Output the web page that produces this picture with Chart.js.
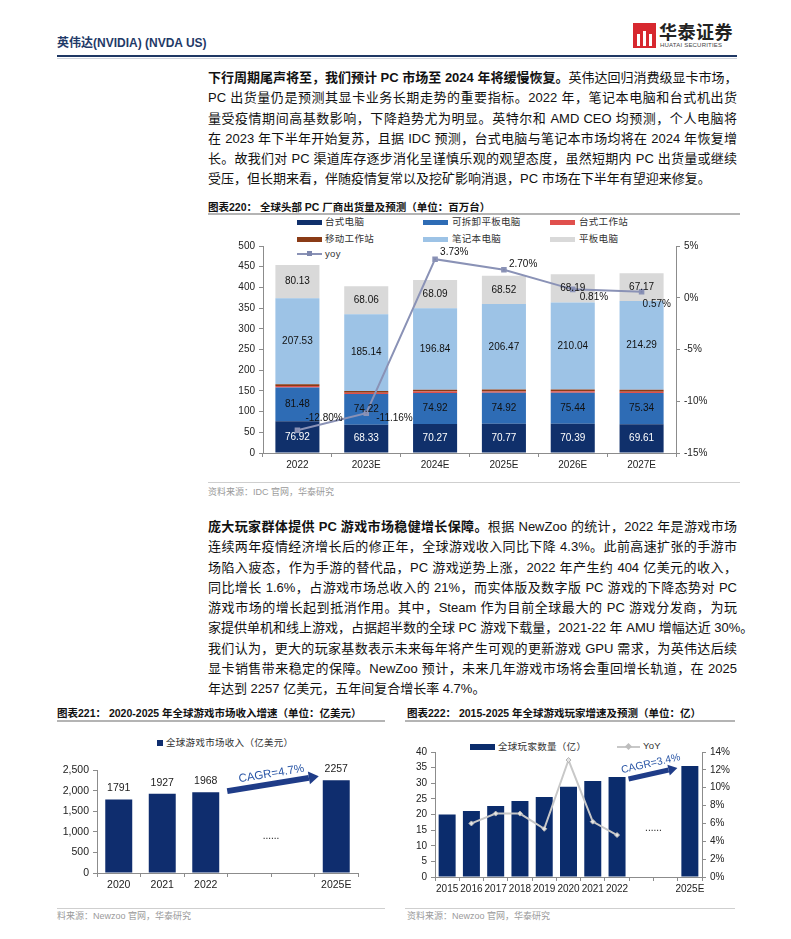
<!DOCTYPE html>
<html>
<head>
<meta charset="utf-8">
<title>英伟达 PC 与游戏市场</title>
<script src="https://cdn.jsdelivr.net/npm/chart.js@4.4.1/dist/chart.umd.min.js"></script>
<style>
html,body{margin:0;padding:0;background:#fff;}
body{width:791px;height:939px;position:relative;overflow:hidden;font-family:"Liberation Sans","Noto Sans CJK SC",sans-serif;color:#111;}
.a{position:absolute;white-space:nowrap;}
.para{position:absolute;left:208px;width:529px;font-size:13px;}
.para div{height:20.3px;line-height:20.3px;white-space:nowrap;text-align:justify;text-align-last:justify;}
.para div.last{text-align-last:left;}
.title{position:absolute;font-size:10.5px;font-weight:bold;color:#111;white-space:nowrap;line-height:14px;}
.rule{position:absolute;height:1px;background:#a0a0a0;}
.src{position:absolute;font-size:9px;color:#9a9a9a;white-space:nowrap;line-height:12px;}
.lg{position:absolute;font-size:9.5px;color:#333;white-space:nowrap;line-height:12px;letter-spacing:0.3px;}
.sw{position:absolute;}
canvas{position:absolute;}
</style>
</head>
<body>

<!-- 页眉 -->
<div class="a" style="left:57px;top:36px;font-size:12px;font-weight:bold;color:#1F3A68;line-height:14px;">英伟达(NVIDIA) (NVDA US)</div>
<div class="a" style="left:633px;top:23px;width:23px;height:25px;background:#D7282F;"></div>
<div class="a" style="left:637px;top:34px;width:3px;height:12px;background:#fff;"></div>
<div class="a" style="left:643px;top:31px;width:3px;height:15px;background:#fff;"></div>
<div class="a" style="left:649px;top:34px;width:3px;height:12px;background:#fff;"></div>
<div class="a" style="left:659px;top:22px;font-size:18px;font-weight:bold;color:#222;line-height:22px;letter-spacing:0.5px;">华泰证券</div>
<div class="a" style="left:660px;top:42px;font-size:6px;color:#444;line-height:7px;letter-spacing:0.2px;">HUATAI SECURITIES</div>
<div class="a" style="left:57px;top:55px;width:680px;height:2px;background:#1F3864;"></div>
<div class="a" style="left:57px;top:58px;width:680px;height:1px;background:#d0d4dc;"></div>

<!-- 段落一 -->
<div class="para" style="top:68px;">
<div><b>下行周期尾声将至，我们预计 PC 市场至 2024 年将缓慢恢复。</b>英伟达回归消费级显卡市场，</div>
<div>PC 出货量仍是预测其显卡业务长期走势的重要指标。2022 年，笔记本电脑和台式机出货</div>
<div>量受疫情期间高基数影响，下降趋势尤为明显。英特尔和 AMD CEO 均预测，个人电脑将</div>
<div>在 2023 年下半年开始复苏，且据 IDC 预测，台式电脑与笔记本市场均将在 2024 年恢复增</div>
<div>长。故我们对 PC 渠道库存逐步消化呈谨慎乐观的观望态度，虽然短期内 PC 出货量或继续</div>
<div class="last">受压，但长期来看，伴随疫情复常以及挖矿影响消退，PC 市场在下半年有望迎来修复。</div>
</div>

<!-- 图表220 -->
<div class="title" style="left:208px;top:200px;">图表220：&nbsp;全球头部 PC 厂商出货量及预测（单位：百万台）</div>
<div class="rule" style="left:208px;top:213px;width:532px;height:2px;background:#b4b4b4;"></div>

<div class="sw" style="left:297px;top:220px;width:25px;height:5px;background:#10306B;"></div>
<div class="lg" style="left:325px;top:216px;">台式电脑</div>
<div class="sw" style="left:423px;top:220px;width:25px;height:5px;background:#2E6CB5;"></div>
<div class="lg" style="left:452px;top:216px;">可拆卸平板电脑</div>
<div class="sw" style="left:550px;top:220px;width:25px;height:5px;background:#E0504D;"></div>
<div class="lg" style="left:579px;top:216px;">台式工作站</div>
<div class="sw" style="left:297px;top:237px;width:25px;height:5px;background:#8A3B16;"></div>
<div class="lg" style="left:325px;top:233px;">移动工作站</div>
<div class="sw" style="left:423px;top:237px;width:25px;height:5px;background:#9DC3E6;"></div>
<div class="lg" style="left:452px;top:233px;">笔记本电脑</div>
<div class="sw" style="left:550px;top:237px;width:25px;height:5px;background:#D9D9D9;"></div>
<div class="lg" style="left:579px;top:233px;">平板电脑</div>
<div class="sw" style="left:297px;top:253px;width:25px;height:2px;background:#8A92B6;"></div>
<div class="sw" style="left:307px;top:251px;width:5px;height:5px;background:#7D86AD;"></div>
<div class="lg" style="left:325px;top:248px;">yoy</div>

<canvas id="c220" width="529" height="241" style="left:208px;top:236px;width:529px;height:241px;"></canvas>

<div class="rule" style="left:208px;top:482px;width:532px;background:#cfcfcf;"></div>
<div class="src" style="left:208px;top:486px;">资料来源：IDC 官网，华泰研究</div>

<!-- 段落二 -->
<div class="para" style="top:517px;">
<div><b>庞大玩家群体提供 PC 游戏市场稳健增长保障。</b>根据 NewZoo 的统计，2022 年是游戏市场</div>
<div>连续两年疫情经济增长后的修正年，全球游戏收入同比下降 4.3%。此前高速扩张的手游市</div>
<div>场陷入疲态，作为手游的替代品，PC 游戏逆势上涨，2022 年产生约 404 亿美元的收入，</div>
<div>同比增长 1.6%，占游戏市场总收入的 21%，而实体版及数字版 PC 游戏的下降态势对 PC</div>
<div>游戏市场的增长起到抵消作用。其中，Steam 作为目前全球最大的 PC 游戏分发商，为玩</div>
<div>家提供单机和线上游戏，占据超半数的全球 PC 游戏下载量，2021-22 年 AMU 增幅达近 30%。</div>
<div>我们认为，更大的玩家基数表示未来每年将产生可观的更新游戏 GPU 需求，为英伟达后续</div>
<div>显卡销售带来稳定的保障。NewZoo 预计，未来几年游戏市场将会重回增长轨道，在 2025</div>
<div class="last">年达到 2257 亿美元，五年间复合增长率 4.7%。</div>
</div>

<!-- 图表221 -->
<div class="title" style="left:57px;top:706px;">图表221：&nbsp;2020-2025 年全球游戏市场收入增速（单位：亿美元）</div>
<div class="rule" style="left:57px;top:720px;width:328px;height:2px;background:#b4b4b4;"></div>
<div class="sw" style="left:157px;top:740px;width:6px;height:6px;background:#0F2D6E;"></div>
<div class="lg" style="left:166px;top:737px;">全球游戏市场收入（亿美元）</div>
<canvas id="c221" width="328" height="135" style="left:57px;top:760px;width:328px;height:135px;"></canvas>
<div class="rule" style="left:57px;top:908px;width:328px;background:#cfcfcf;"></div>
<div class="src" style="left:57px;top:910px;">料来源：Newzoo 官网，华泰研究</div>

<!-- 图表222 -->
<div class="title" style="left:407px;top:706px;">图表222：&nbsp;2015-2025 年全球游戏玩家增速及预测（单位：亿）</div>
<div class="rule" style="left:405px;top:720px;width:330px;height:2px;background:#b4b4b4;"></div>
<div class="sw" style="left:470px;top:744px;width:25px;height:6px;background:#0B2C6C;"></div>
<div class="lg" style="left:498px;top:741px;">全球玩家数量（亿）</div>
<div class="sw" style="left:617px;top:746px;width:23px;height:2px;background:#c8c8c8;"></div>
<div class="sw" style="left:626px;top:744px;width:5px;height:5px;background:#bdbdbd;transform:rotate(45deg);"></div>
<div class="lg" style="left:643px;top:740px;">YoY</div>
<canvas id="c222" width="340" height="157" style="left:405px;top:742px;width:340px;height:157px;"></canvas>
<div class="rule" style="left:405px;top:908px;width:330px;background:#cfcfcf;"></div>
<div class="src" style="left:407px;top:910px;">资料来源：Newzoo 官网，华泰研究</div>

<script>
var FONT = "'Liberation Sans','Noto Sans CJK SC',sans-serif";

// 图表220 全球头部PC厂商出货量（百万台）
var years220 = ['2022', '2023E', '2024E', '2025E', '2026E', '2027E'];
var desktop220 = [76.92, 68.33, 70.27, 70.77, 70.39, 69.61];
var detachable220 = [81.48, 74.22, 74.92, 74.92, 75.44, 75.34];
var deskStation220 = [3.3, 3.0, 3.1, 3.1, 3.2, 3.2];
var mobileStation220 = [4.6, 4.2, 4.4, 4.5, 4.6, 4.6];
var notebook220 = [207.53, 185.14, 196.84, 206.47, 210.04, 214.29];
var tablet220 = [80.13, 68.06, 68.09, 68.52, 68.19, 67.17];
var yoy220 = [-12.80, -11.16, 3.73, 2.70, 0.81, 0.57];
// yoy 标签相对数据点的偏移
var yoyLabelPos220 = [[8, -12], [10, 5], [5, -7], [5, -6], [7, 8], [1, 12]];

// 图表221 全球游戏市场收入（亿美元）
var years221 = ['2020', '2021', '2022', '', '', '2025E'];
var revenue221 = [1791, 1927, 1968, null, null, 2257];

// 图表222 全球游戏玩家（亿）
var years222 = ['2015', '2016', '2017', '2018', '2019', '2020', '2021', '2022', '', '', '2025E'];
var players222 = [20.0, 21.1, 22.7, 24.3, 25.6, 28.9, 30.7, 32.0, null, null, 35.5];
var yoy222 = [null, 6.0, 7.1, 7.1, 5.4, 13.1, 6.2, 4.7, null, null, null];

//================ 数据标签 ================
var valueLabels = {
    id: 'valueLabels',
    afterDatasetsDraw: function(chart) {
        var ctx = chart.ctx;
        chart.data.datasets.forEach(function(ds, i) {
            if (!ds.lbl) return;
            var meta = chart.getDatasetMeta(i);
            ctx.save();
            ctx.font = ds.lbl.font;
            ctx.fillStyle = ds.lbl.color;
            ctx.textBaseline = 'middle';
            meta.data.forEach(function(el, j) {
                var v = ds.data[j];
                if (v === null || v === undefined) return;
                var txt = ds.lbl.fmt ? ds.lbl.fmt(v) : String(v);
                var x = el.x, y;
                ctx.textAlign = 'center';
                if (ds.lbl.pos === 'center') {
                    y = (el.y + el.base) / 2;
                } else if (ds.lbl.pos === 'top') {
                    y = el.y - ds.lbl.gap;
                } else {
                    var off = ds.lbl.offsets[j];
                    ctx.textAlign = 'left';
                    x = el.x + off[0];
                    y = el.y + off[1];
                }
                ctx.fillText(txt, x, y);
            });
            ctx.restore();
        });
    }
};

//================ CAGR 箭头 ================
var cagrArrow = {
    id: 'cagrArrow',
    afterDatasetsDraw: function(chart, args, opt) {
        if (!opt || !opt.text) return;
        var meta = chart.getDatasetMeta(0);
        var a = meta.data[opt.from], b = meta.data[opt.to];
        var x0 = a.x + a.width / 2 + opt.gap[0], y0 = a.y + opt.lift[0];
        var x1 = b.x - b.width / 2 - opt.gap[1], y1 = b.y + opt.lift[1];
        var ang = Math.atan2(y1 - y0, x1 - x0);
        var c = Math.cos(ang), s = Math.sin(ang);
        var bx = x1 - opt.headLen * c, by = y1 - opt.headLen * s;
        var h = opt.headW / 2;
        var ctx = chart.ctx;
        ctx.save();
        ctx.strokeStyle = opt.color;
        ctx.fillStyle = opt.color;
        ctx.lineWidth = opt.shaft;
        ctx.beginPath();
        ctx.moveTo(x0, y0);
        ctx.lineTo(bx, by);
        ctx.stroke();
        ctx.beginPath();
        ctx.moveTo(x1, y1);
        ctx.lineTo(bx - s * h, by + c * h);
        ctx.lineTo(bx + s * h, by - c * h);
        ctx.closePath();
        ctx.fill();
        var mx = (x0 + x1) / 2 + s * opt.textGap, my = (y0 + y1) / 2 - c * opt.textGap;
        ctx.translate(mx, my);
        ctx.rotate(ang);
        ctx.font = opt.font;
        ctx.fillStyle = opt.textColor;
        ctx.textAlign = 'center';
        ctx.textBaseline = 'middle';
        ctx.fillText(opt.text, 0, 0);
        ctx.restore();
    }
};

//================ 省略号 ================
var gapDots = {
    id: 'gapDots',
    afterDatasetsDraw: function(chart, args, opt) {
        if (!opt || !opt.text) return;
        var xs = chart.scales.x, ys = chart.scales.y;
        var x = (xs.getPixelForValue(opt.between[0]) + xs.getPixelForValue(opt.between[1])) / 2;
        var y = ys.getPixelForValue(opt.value);
        var ctx = chart.ctx;
        ctx.save();
        ctx.font = opt.font;
        ctx.fillStyle = '#222';
        ctx.textAlign = 'center';
        ctx.textBaseline = 'middle';
        ctx.fillText(opt.text, x, y);
        ctx.restore();
    }
};

Chart.register(valueLabels, cagrArrow, gapDots);

function axisGrid() {
    return { drawOnChartArea: false, drawTicks: true, tickLength: 4, color: '#8c8c8c' };
}
function tickFont(size) {
    return { family: FONT, size: size };
}

//================ 图表220 ================
var dark220 = { pos: 'center', font: '10px ' + FONT, color: '#111' };
new Chart(document.getElementById('c220'), {
    type: 'bar',
    data: {
        labels: years220,
        datasets: [
            { label: '台式电脑', data: desktop220, backgroundColor: '#10306B', order: 2,
              lbl: { pos: 'center', font: '10px ' + FONT, color: '#fff' } },
            { label: '可拆卸平板电脑', data: detachable220, backgroundColor: '#2E6CB5', order: 2, lbl: dark220 },
            { label: '台式工作站', data: deskStation220, backgroundColor: '#E0504D', order: 2 },
            { label: '移动工作站', data: mobileStation220, backgroundColor: '#8A3B16', order: 2 },
            { label: '笔记本电脑', data: notebook220, backgroundColor: '#9DC3E6', order: 2, lbl: dark220 },
            { label: '平板电脑', data: tablet220, backgroundColor: '#D9D9D9', order: 2, lbl: dark220 },
            { type: 'line', label: 'yoy', data: yoy220, yAxisID: 'y1', order: 0,
              borderColor: '#8A92B6', backgroundColor: '#7D86AD', borderWidth: 2,
              pointStyle: 'rect', pointRadius: 2.5,
              lbl: { pos: 'point', offsets: yoyLabelPos220, font: '10px ' + FONT, color: '#111',
                     fmt: function(v) { return v.toFixed(2) + '%'; } } }
        ]
    },
    options: {
        responsive: false,
        animation: false,
        layout: { padding: { top: 10, bottom: 0, left: 0, right: 0 } },
        plugins: { legend: { display: false }, tooltip: { enabled: false } },
        datasets: { bar: { barPercentage: 0.64, categoryPercentage: 1, borderWidth: 0 } },
        scales: {
            x: { stacked: true, grid: axisGrid(), border: { color: '#8c8c8c' },
                 ticks: { font: tickFont(10), color: '#222', padding: 2 },
                 afterFit: function(s) { s.height = 24; } },
            y: { stacked: true, min: 0, max: 500, grid: axisGrid(), border: { color: '#8c8c8c' },
                 ticks: { stepSize: 50, font: tickFont(10), color: '#222', padding: 4 },
                 afterFit: function(s) { s.width = 55; } },
            y1: { position: 'right', min: -15, max: 5, grid: axisGrid(), border: { color: '#8c8c8c' },
                  ticks: { stepSize: 5, font: tickFont(10), color: '#222', padding: 4,
                           callback: function(v) { return v + '%'; } },
                  afterFit: function(s) { s.width = 61; } }
        }
    }
});

//================ 图表221 ================
new Chart(document.getElementById('c221'), {
    type: 'bar',
    data: {
        labels: years221,
        datasets: [
            { label: '全球游戏市场收入（亿美元）', data: revenue221, backgroundColor: '#0F2D6E',
              barPercentage: 0.62, categoryPercentage: 1,
              lbl: { pos: 'top', gap: 11, font: '10.5px ' + FONT, color: '#222' } }
        ]
    },
    options: {
        responsive: false,
        animation: false,
        layout: { padding: { top: 10, bottom: 0, left: 0, right: 27 } },
        plugins: {
            legend: { display: false }, tooltip: { enabled: false },
            cagrArrow: { text: 'CAGR=4.7%', from: 2, to: 5, gap: [8, 4], lift: [-1, -4],
                         headLen: 10, headW: 13, shaft: 6, color: '#1F3C88', textColor: '#2A56A6',
                         textGap: 10, font: '11.5px ' + FONT },
            gapDots: { text: '......', between: [3, 4], value: 900, font: '10px ' + FONT }
        },
        scales: {
            x: { grid: axisGrid(), border: { color: '#8c8c8c' },
                 ticks: { font: tickFont(10.5), color: '#222', padding: 2 },
                 afterFit: function(s) { s.height = 22; } },
            y: { min: 0, max: 2500, grid: axisGrid(), border: { color: '#8c8c8c' },
                 ticks: { stepSize: 500, font: tickFont(10.5), color: '#222', padding: 4,
                          callback: function(v) { return v.toLocaleString('en-US'); } },
                 afterFit: function(s) { s.width = 40; } }
        }
    }
});

//================ 图表222 ================
new Chart(document.getElementById('c222'), {
    type: 'bar',
    data: {
        labels: years222,
        datasets: [
            { label: '全球玩家数量（亿）', data: players222, backgroundColor: '#0B2C6C',
              barPercentage: 0.7, categoryPercentage: 1, order: 2 },
            { type: 'line', label: 'YoY', data: yoy222, yAxisID: 'y1', order: 0,
              borderColor: '#C8C8C8', borderWidth: 2, spanGaps: false,
              pointStyle: 'rectRot', pointRadius: 2.5,
              pointBackgroundColor: '#E4E4E4', pointBorderColor: '#B5B5B5', pointBorderWidth: 1 }
        ]
    },
    options: {
        responsive: false,
        animation: false,
        layout: { padding: { top: 10, bottom: 0, left: 0, right: 0 } },
        plugins: {
            legend: { display: false }, tooltip: { enabled: false },
            cagrArrow: { text: 'CAGR=3.4%', from: 7, to: 10, gap: [3, 4], lift: [2, 2],
                         headLen: 9, headW: 11, shaft: 5, color: '#1F3C88', textColor: '#2A56A6',
                         textGap: 10, font: '10.5px ' + FONT },
            gapDots: { text: '......', between: [8, 9], value: 15.7, font: '10px ' + FONT }
        },
        scales: {
            x: { grid: axisGrid(), border: { color: '#8c8c8c' },
                 ticks: { font: tickFont(10), color: '#222', padding: 2, autoSkip: false, maxRotation: 0 },
                 afterFit: function(s) { s.height = 22; } },
            y: { min: 0, max: 40, grid: axisGrid(), border: { color: '#8c8c8c' },
                 ticks: { stepSize: 5, font: tickFont(10), color: '#222', padding: 4 },
                 afterFit: function(s) { s.width = 30; } },
            y1: { position: 'right', min: 0, max: 14, grid: axisGrid(), border: { color: '#8c8c8c' },
                  ticks: { stepSize: 2, font: tickFont(10), color: '#222', padding: 4,
                           callback: function(v) { return v + '%'; } },
                  afterFit: function(s) { s.width = 43; } }
        }
    }
});
</script>
</body>
</html>
